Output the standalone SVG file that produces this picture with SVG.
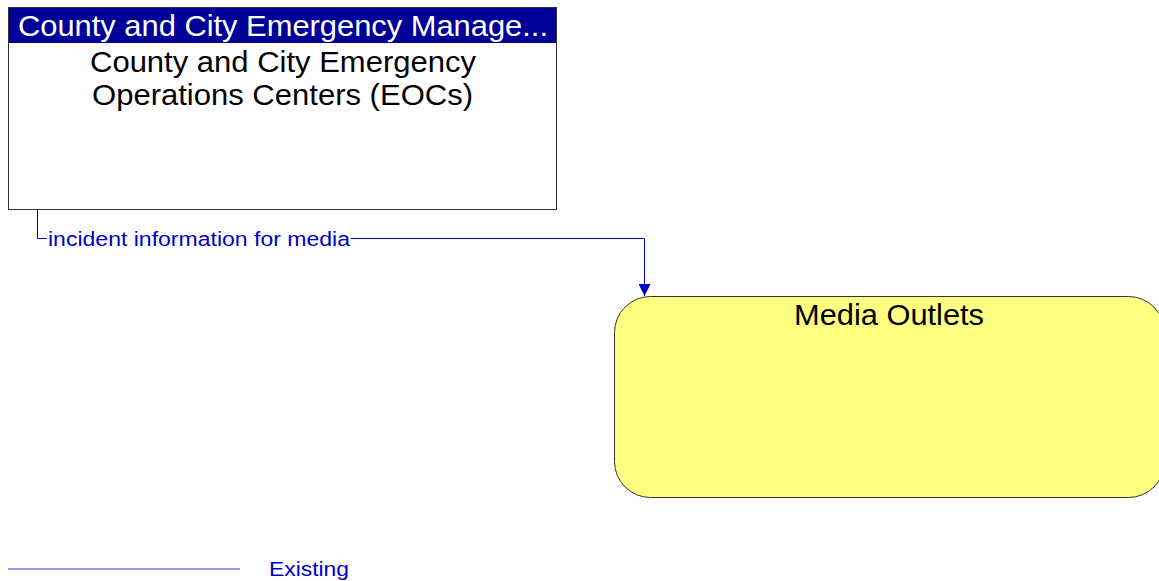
<svg xmlns="http://www.w3.org/2000/svg" width="1159" height="581" viewBox="0 0 1159 581">
  <style>
    text { font-family: "Liberation Sans", Arial, sans-serif; }
    .node-title { font-size: 30px; fill: #000000; }
    .header-text { font-size: 29px; fill: #ffffff; }
    .flow { fill: none; stroke: #0000cc; stroke-width: 1; }
    .flow-label { font-size: 20px; fill: #0000cc; }
    .legend-text { font-size: 21px; fill: #0000cc; }
  </style>
  <defs>
    <marker id="arrow" viewBox="0 0 12 12" refX="12" refY="6" markerWidth="12" markerHeight="12" markerUnits="userSpaceOnUse" orient="auto">
      <path d="M0,0 L12,6 L0,12 Z" fill="#0000cc"/>
    </marker>
  </defs>
  <rect width="1159" height="581" fill="#ffffff"/>

  <g id="node-eoc">
    <rect x="8.5" y="7.5" width="548" height="202" fill="#ffffff" stroke="#333333" stroke-width="1"/>
    <rect x="9" y="8" width="547" height="35" fill="#000099"/>
    <text class="header-text" x="18" y="36" textLength="530" lengthAdjust="spacingAndGlyphs">County and City Emergency Manage...</text>
    <text class="node-title" x="90" y="72" textLength="386" lengthAdjust="spacingAndGlyphs">County and City Emergency</text>
    <text class="node-title" x="92" y="105" textLength="381" lengthAdjust="spacingAndGlyphs">Operations Centers (EOCs)</text>
  </g>

  <g id="node-media">
    <rect x="614.5" y="296.5" width="550" height="201" rx="36" ry="36" fill="#ffff80" stroke="#333333" stroke-width="1"/>
    <text class="node-title" x="794" y="325" textLength="190" lengthAdjust="spacingAndGlyphs">Media Outlets</text>
  </g>

  <g id="connectors">
    <path class="flow" d="M37.5,210 V238.5 H644.5 V296" marker-end="url(#arrow)"/>
    <rect x="47" y="228" width="304" height="22" fill="#ffffff"/>
    <text class="flow-label" x="48" y="246" textLength="302" lengthAdjust="spacingAndGlyphs">incident information for media</text>
  </g>

  <g id="legend">
    <line x1="8" y1="569" x2="240" y2="569" stroke="#7777dd" stroke-width="1.5"/>
    <text class="legend-text" x="269" y="576" textLength="80" lengthAdjust="spacingAndGlyphs">Existing</text>
  </g>
</svg>
